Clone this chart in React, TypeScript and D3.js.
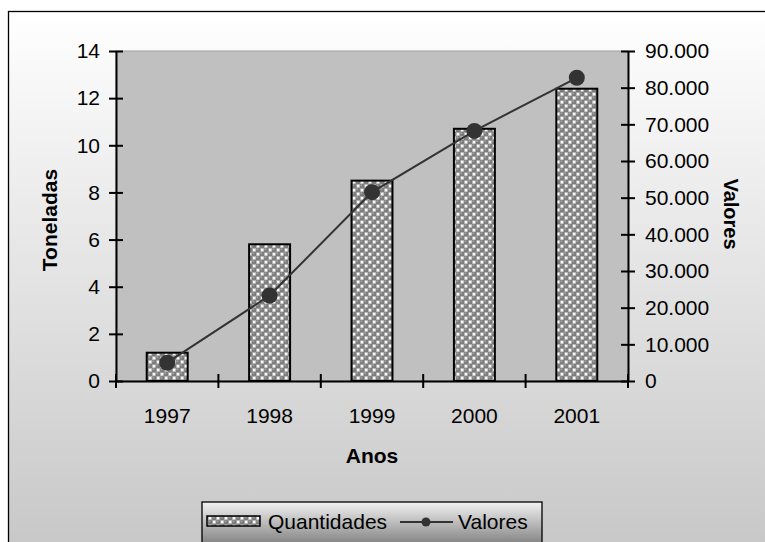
import React, { useEffect, useRef } from 'react';
import * as d3 from 'd3';

const years = ['1997', '1998', '1999', '2000', '2001'];
const quantidades = [1.2, 5.8, 8.5, 10.7, 12.4];
const valores = [5000, 23300, 51500, 68200, 82700];
const leftTicks = [0, 2, 4, 6, 8, 10, 12, 14];
const rightTicks = [0, 10000, 20000, 30000, 40000, 50000, 60000, 70000, 80000, 90000];

const W = 765;
const H = 542;

const fmt = (v: number) => (v === 0 ? '0' : d3.format(',')(v).replace(/,/g, '.'));

const App: React.FC = () => {
  const ref = useRef<SVGSVGElement>(null);

  useEffect(() => {
    const svg = d3.select(ref.current);
    svg.selectAll('*').remove();

    const font = 'Arial, "Liberation Sans", sans-serif';
    const fs = 21;
    const left = 116, right = 628, top = 51, bottom = 381;

    const defs = svg.append('defs');
    const bg = defs.append('linearGradient').attr('id', 'bg').attr('gradientUnits', 'userSpaceOnUse')
      .attr('x1', 0).attr('y1', 11).attr('x2', 0).attr('y2', 542);
    bg.append('stop').attr('offset', '0%').attr('stop-color', '#ffffff');
    bg.append('stop').attr('offset', '100%').attr('stop-color', '#c8c8c8');
    const lg = defs.append('linearGradient').attr('id', 'lg').attr('gradientUnits', 'userSpaceOnUse')
      .attr('x1', 0).attr('y1', 502).attr('x2', 0).attr('y2', 542);
    lg.append('stop').attr('offset', '0%').attr('stop-color', '#f2f2f2');
    lg.append('stop').attr('offset', '100%').attr('stop-color', '#888888');

    // checkered balls pattern for the bars
    const pat = defs.append('pattern').attr('id', 'balls').attr('patternUnits', 'userSpaceOnUse')
      .attr('width', 8).attr('height', 8);
    pat.append('rect').attr('width', 8).attr('height', 8).attr('fill', '#b0b0b0');
    [[2, 2], [6, 6]].forEach(([px, py]) => {
      pat.append('circle').attr('cx', px).attr('cy', py).attr('r', 2.6).attr('fill', '#7c7c7c');
      pat.append('circle').attr('cx', px - 0.7).attr('cy', py - 0.7).attr('r', 1).attr('fill', '#a0a0a0');
    });
    pat.append('rect').attr('x', 4.9).attr('y', 0.9).attr('width', 2.4).attr('height', 2.4).attr('fill', '#fafafa');
    pat.append('rect').attr('x', 0.9).attr('y', 4.9).attr('width', 2.4).attr('height', 2.4).attr('fill', '#fafafa');

    // chart area
    svg.append('rect').attr('x', 8.5).attr('y', 11.5).attr('width', 800).attr('height', 600)
      .attr('fill', 'url(#bg)').attr('stroke', '#000').attr('stroke-width', 1.3);

    const x = d3.scaleBand<string>().domain(years).range([left, right]).paddingInner(0.6).paddingOuter(0.3);
    const band = d3.scaleBand<string>().domain(years).range([left, right]);
    const yL = d3.scaleLinear().domain([0, 14]).range([bottom, top]);
    const yR = d3.scaleLinear().domain([0, 90000]).range([bottom, top]);

    // plot area
    svg.append('rect').attr('x', left).attr('y', top).attr('width', right - left).attr('height', bottom - top)
      .attr('fill', '#c0c0c0').attr('stroke', '#a0a0a0').attr('stroke-width', 1);

    // bars
    svg.append('g').selectAll('rect').data(quantidades).join('rect')
      .attr('x', (_, i) => x(years[i])!)
      .attr('y', d => yL(d))
      .attr('width', x.bandwidth())
      .attr('height', d => bottom - yL(d))
      .attr('fill', 'url(#balls)')
      .attr('stroke', '#000').attr('stroke-width', 2);

    // axes
    const axL = svg.append('g').attr('transform', `translate(${left},0)`)
      .call(d3.axisLeft(yL).tickValues(leftTicks).tickSize(7).tickSizeOuter(0).tickPadding(9));
    axL.selectAll('.tick line').attr('x2', -7).attr('x1', 7);
    const axR = svg.append('g').attr('transform', `translate(${right},0)`)
      .call(d3.axisRight(yR).tickValues(rightTicks).tickFormat(d => fmt(+d)).tickSize(7).tickSizeOuter(0).tickPadding(10));
    axR.selectAll('.tick line').attr('x1', -7).attr('x2', 7);
    const axB = svg.append('g').attr('transform', `translate(0,${bottom})`)
      .call(d3.axisBottom(band).tickSize(0).tickSizeOuter(0).tickPadding(27));

    [axL, axR, axB].forEach(a => {
      a.select('.domain').attr('stroke', '#000').attr('stroke-width', 2);
      a.selectAll('.tick line').attr('stroke', '#000').attr('stroke-width', 2);
      a.selectAll('text').attr('font-family', font).attr('font-size', fs).attr('fill', '#000');
    });

    // x-axis boundary ticks
    const bounds = years.map(y => band(y)!).concat([right]);
    svg.append('g').selectAll('line').data(bounds).join('line')
      .attr('x1', d => d).attr('x2', d => d).attr('y1', bottom - 7).attr('y2', bottom + 7)
      .attr('stroke', '#000').attr('stroke-width', 2);

    // line series
    const cx = (i: number) => band(years[i])! + band.bandwidth() / 2;
    const line = d3.line<number>().x((_, i) => cx(i)).y(d => yR(d));
    svg.append('path').datum(valores).attr('d', line).attr('fill', 'none')
      .attr('stroke', '#333').attr('stroke-width', 2);
    svg.append('g').selectAll('circle').data(valores).join('circle')
      .attr('cx', (_, i) => cx(i)).attr('cy', d => yR(d)).attr('r', 8).attr('fill', '#333');

    // titles
    svg.append('text').attr('transform', `translate(57,220) rotate(-90)`)
      .attr('text-anchor', 'middle').attr('font-family', font).attr('font-size', fs).attr('font-weight', 'bold')
      .text('Toneladas');
    svg.append('text').attr('transform', `translate(724,214) rotate(90)`)
      .attr('text-anchor', 'middle').attr('font-family', font).attr('font-size', 20).attr('font-weight', 'bold')
      .text('Valores');
    svg.append('text').attr('x', 372).attr('y', 463)
      .attr('text-anchor', 'middle').attr('font-family', font).attr('font-size', fs).attr('font-weight', 'bold')
      .text('Anos');

    // legend
    const leg = svg.append('g');
    leg.append('rect').attr('x', 202).attr('y', 502).attr('width', 340).attr('height', 50)
      .attr('fill', 'url(#lg)').attr('stroke', '#000').attr('stroke-width', 1.3);
    leg.append('rect').attr('x', 207).attr('y', 516).attr('width', 53).attr('height', 10)
      .attr('fill', 'url(#balls)').attr('stroke', '#000').attr('stroke-width', 1.5);
    leg.append('text').attr('x', 268).attr('y', 529).attr('font-family', font).attr('font-size', fs).text('Quantidades');
    leg.append('line').attr('x1', 400).attr('x2', 453).attr('y1', 522).attr('y2', 522)
      .attr('stroke', '#333').attr('stroke-width', 2);
    leg.append('circle').attr('cx', 426).attr('cy', 522).attr('r', 4.5).attr('fill', '#333');
    leg.append('text').attr('x', 458).attr('y', 529).attr('font-family', font).attr('font-size', fs).text('Valores');
  }, []);

  return (
    <svg ref={ref} width={W} height={H}
      style={{ position: 'absolute', left: 0, top: 0, display: 'block' }} />
  );
};

export default App;
